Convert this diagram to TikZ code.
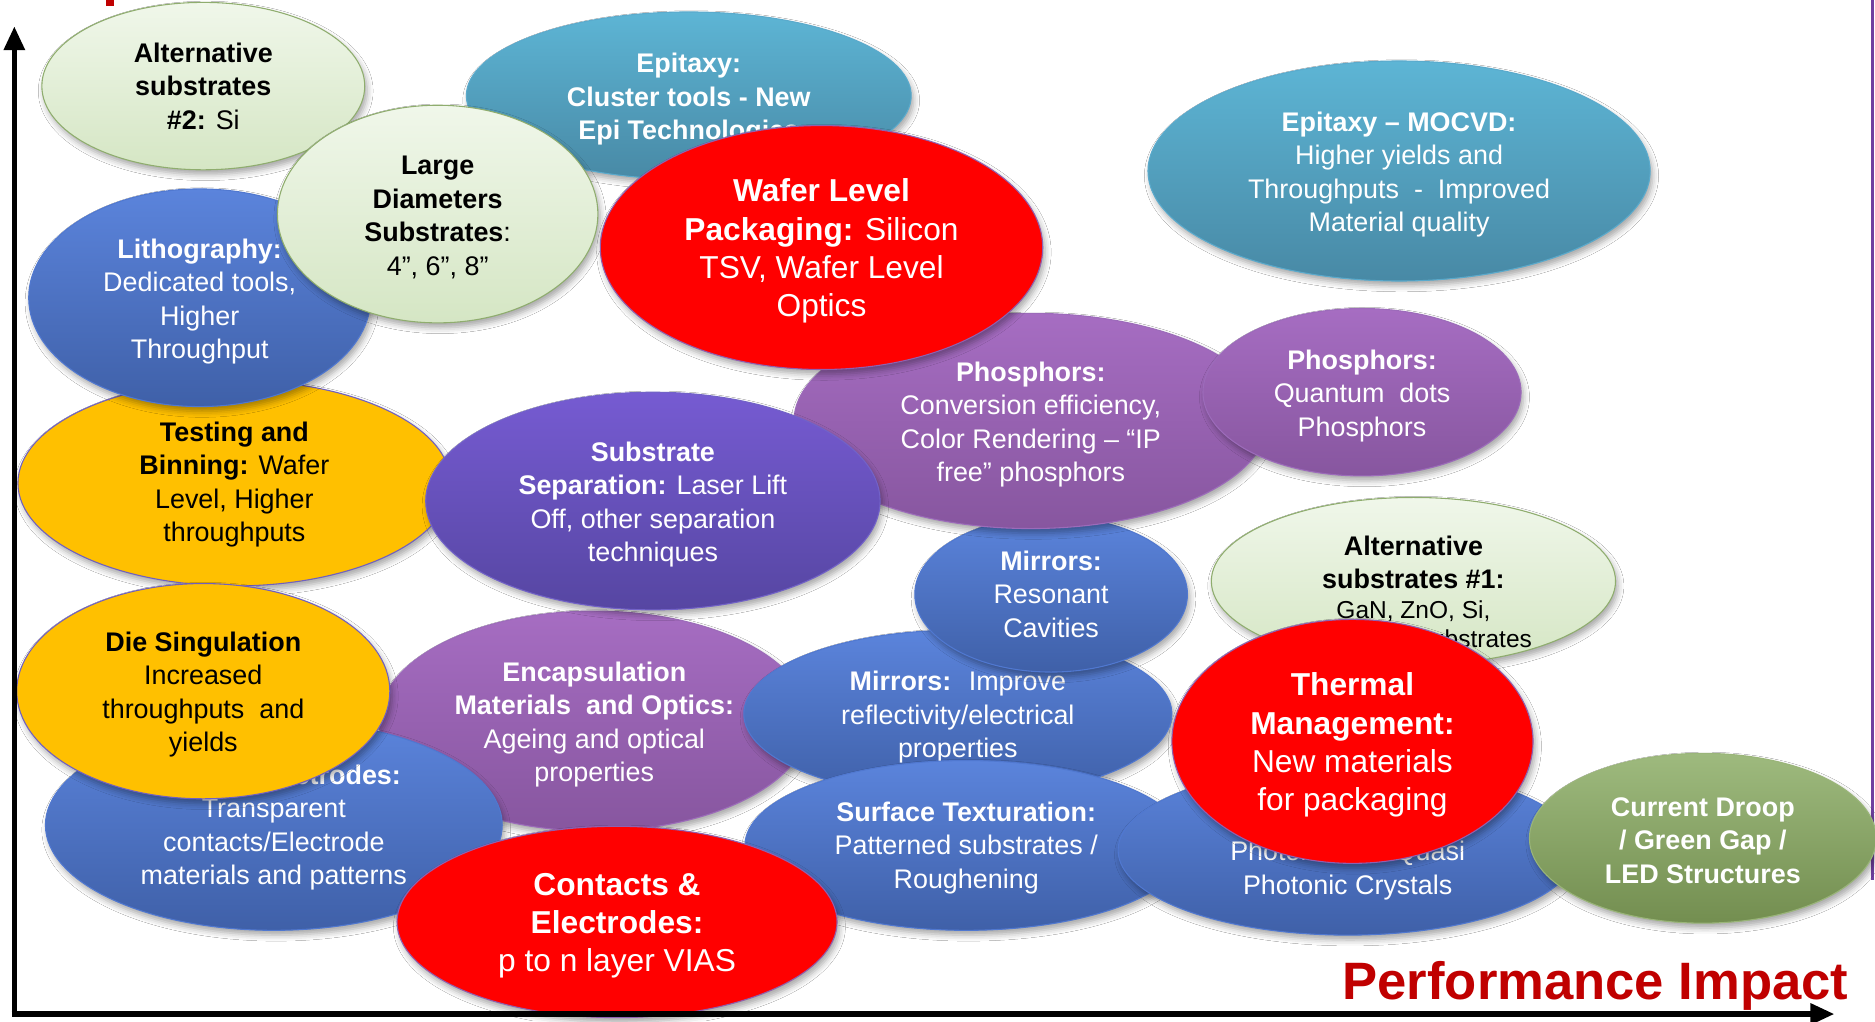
\documentclass[tikz,border=0pt]{standalone}
\usepackage{fontspec}
\setmainfont{Liberation Sans}
\usetikzlibrary{shapes.geometric,arrows.meta,shadows.blur}
\definecolor{bluetop}{HTML}{5B84DC}
\definecolor{bluebot}{HTML}{3F60A8}
\definecolor{blueedge}{HTML}{5078D0}
\definecolor{tealtop}{HTML}{5DB5D5}
\definecolor{tealbot}{HTML}{4889A5}
\definecolor{tealedge}{HTML}{5AAACC}
\definecolor{greentop}{HTML}{F0F7EA}
\definecolor{greenbot}{HTML}{D5E6C4}
\definecolor{greenedge}{HTML}{8FAD6E}
\definecolor{redfill}{HTML}{FF0000}
\definecolor{rededge}{HTML}{9060B0}
\definecolor{yellowfill}{HTML}{FFC000}
\definecolor{yellowedge}{HTML}{7060C0}
\definecolor{purptop}{HTML}{A66DC2}
\definecolor{purpbot}{HTML}{87569F}
\definecolor{purpedge}{HTML}{9C6BBA}
\definecolor{violtop}{HTML}{765BD2}
\definecolor{violbot}{HTML}{5646A2}
\definecolor{violedge}{HTML}{7262C8}
\definecolor{olivetop}{HTML}{9EBA7E}
\definecolor{olivebot}{HTML}{738E50}
\definecolor{oliveedge}{HTML}{9AB579}
\definecolor{perfred}{HTML}{C00000}
\definecolor{frameline}{HTML}{7040A0}
\tikzset{
  bub/.style={ellipse, inner sep=0pt, outer sep=0pt, line width=0.9pt,
    blur shadow={shadow xshift=2pt, shadow yshift=-4pt, shadow blur radius=5pt, shadow opacity=35}},
  txt/.style={align=center, inner sep=0pt, yshift=-3pt, font=\fontsize{22.5}{28}\selectfont},
  bigtxt/.style={align=center, inner sep=0pt, yshift=-3pt, font=\fontsize{26.5}{32}\selectfont},
  blueb/.style={top color=bluetop, bottom color=bluebot, draw=blueedge},
  tealb/.style={top color=tealtop, bottom color=tealbot, draw=tealedge},
  greenb/.style={top color=greentop, bottom color=greenbot, draw=greenedge},
  redb/.style={fill=redfill, draw=rededge},
  yellowb/.style={fill=yellowfill, draw=yellowedge},
  purpb/.style={top color=purptop, bottom color=purpbot, draw=purpedge},
  violb/.style={top color=violtop, bottom color=violbot, draw=violedge},
  oliveb/.style={top color=olivetop, bottom color=olivebot, draw=oliveedge},
  axisline/.style={line width=4.5pt, draw=black, -{Triangle[length=20pt,width=17pt]}},
}
% #1 name, #2 x, #3 y, #4 width, #5 height, #6 shape style, #7 text style, #8 text
\newcommand\mybubble[8]{%
  \node[bub,#6,minimum width=#4pt,minimum height=#5pt] (#1) at (#2,#3) {};
  \node[#7] (#1-t) at (#1.center) {#8};}
\begin{document}
\begin{tikzpicture}[x=1pt,y=-1pt]
\useasboundingbox (0,0) rectangle (1568,854);
\fill[white] (0,0) rectangle (1568,854);
% right frame line and top red mark
\coordinate (ftop) at (1566,0);
\coordinate (fbot) at (1566,736);
\draw[frameline, line width=2pt] (ftop) -- (fbot);
\fill[perfred] (89,0) rectangle (95,5);

\mybubble{epic}{576}{80}{372}{140}{tealb}{txt,text=white}{\textbf{Epitaxy:}\\\textbf{Cluster tools - New}\\\textbf{Epi Technologies}}
\mybubble{alt2}{170}{72}{270}{140}{greenb}{txt,text=black,yshift=3pt}{\textbf{Alternative}\\\textbf{substrates}\\\textbf{\#2:} Si}
\mybubble{test}{196}{404}{362}{172}{yellowb}{txt,text=black,yshift=2pt}{\textbf{Testing and}\\\textbf{Binning:} Wafer\\Level, Higher\\throughputs}
\mybubble{litho}{167}{249}{286}{182}{blueb}{txt,text=white}{\textbf{Lithography:}\\Dedicated tools,\\Higher\\Throughput}
\mybubble{large}{366}{179}{268}{182}{greenb}{txt,text=black}{\textbf{Large}\\\textbf{Diameters}\\\textbf{Substrates}:\\4”, 6”, 8”}
\mybubble{mocvd}{1170}{143}{420}{184}{tealb}{txt,text=white}{\textbf{Epitaxy – MOCVD:}\\Higher yields and\\Throughputs \ - \ Improved\\Material quality}
\mybubble{encaps}{497}{603}{360}{184}{purpb}{txt,text=white}{\textbf{Encapsulation}\\\textbf{Materials \ and Optics:}\\Ageing and optical\\properties}
\mybubble{mirimp}{801}{597}{358}{140}{blueb}{txt,text=white}{\textbf{Mirrors:} \ Improve\\reflectivity/electrical\\properties}
\mybubble{mirrc}{879}{497}{228}{130}{blueb}{txt,text=white,yshift=3pt}{\textbf{Mirrors:}\\Resonant\\Cavities}
\mybubble{phconv}{862}{352}{396}{180}{purpb}{txt,text=white}{\textbf{Phosphors:}\\Conversion efficiency,\\Color Rendering – “IP\\free” phosphors}
\mybubble{wlp}{687}{207}{370}{204}{redb}{bigtxt,text=white}{\textbf{Wafer Level}\\\textbf{Packaging:} Silicon\\TSV, Wafer Level\\Optics}
\mybubble{qd}{1139}{328}{266}{140}{purpb}{txt,text=white}{\textbf{Phosphors:}\\Quantum \ dots\\Phosphors}
\mybubble{subsep}{546}{419}{380}{182}{violb}{txt,text=white}{\textbf{Substrate}\\\textbf{Separation:} Laser Lift\\Off, other separation\\techniques}
\mybubble{transp}{229}{690}{382}{176}{blueb}{txt,text=white,yshift=1pt}{\textbf{Contact Electrodes:}\\Transparent\\contacts/Electrode\\materials and patterns}
\mybubble{die}{170}{578}{312}{180}{yellowb}{txt,text=black}{\textbf{Die Singulation}\\Increased\\throughputs \ and\\yields}
\mybubble{surface}{808}{707}{370}{142}{blueb}{txt,text=white,yshift=1pt}{\textbf{Surface Texturation:}\\Patterned substrates /\\Roughening}
\mybubble{photonic}{1127}{711}{384}{142}{blueb}{txt,text=white}{\textbf{Optical Extraction:}\\Photonic and Quasi\\Photonic Crystals}
\mybubble{alt1}{1182}{486}{338}{140}{greenb}{txt,text=black,yshift=-8pt}{\textbf{Alternative}\\\textbf{substrates \#1:}\\[-3pt]{\fontsize{20.5}{25}\selectfont GaN, ZnO, Si,}\\[-4pt]{\fontsize{20.5}{25}\selectfont Composite substrates}}
\mybubble{contacts}{516}{771}{368}{160}{redb}{bigtxt,text=white}{\textbf{Contacts \&}\\\textbf{Electrodes:}\\p to n layer VIAS}
\mybubble{thermal}{1131}{620}{302}{204}{redb}{bigtxt,text=white}{\textbf{Thermal}\\\textbf{Management:}\\New materials\\for packaging}
\mybubble{droop}{1424}{701}{290}{142}{oliveb}{txt,text=white,yshift=1pt}{\textbf{Current Droop}\\\textbf{/ Green Gap /}\\\textbf{LED Structures}}

% axes
\coordinate (origin) at (12,848);
\coordinate (ytip) at (12,22);
\coordinate (xstart) at (9.75,848);
\coordinate (ybottom) at (12,850.25);
\coordinate (xtip) at (1534,848);
\draw[axisline] (ybottom) -- (ytip);
\draw[axisline] (xstart) -- (xtip);
\node[anchor=base east, text=perfred, inner sep=0pt, font=\bfseries\fontsize{44}{50}\selectfont] (perf) at (1546,836) {Performance Impact};
\end{tikzpicture}
\end{document}
